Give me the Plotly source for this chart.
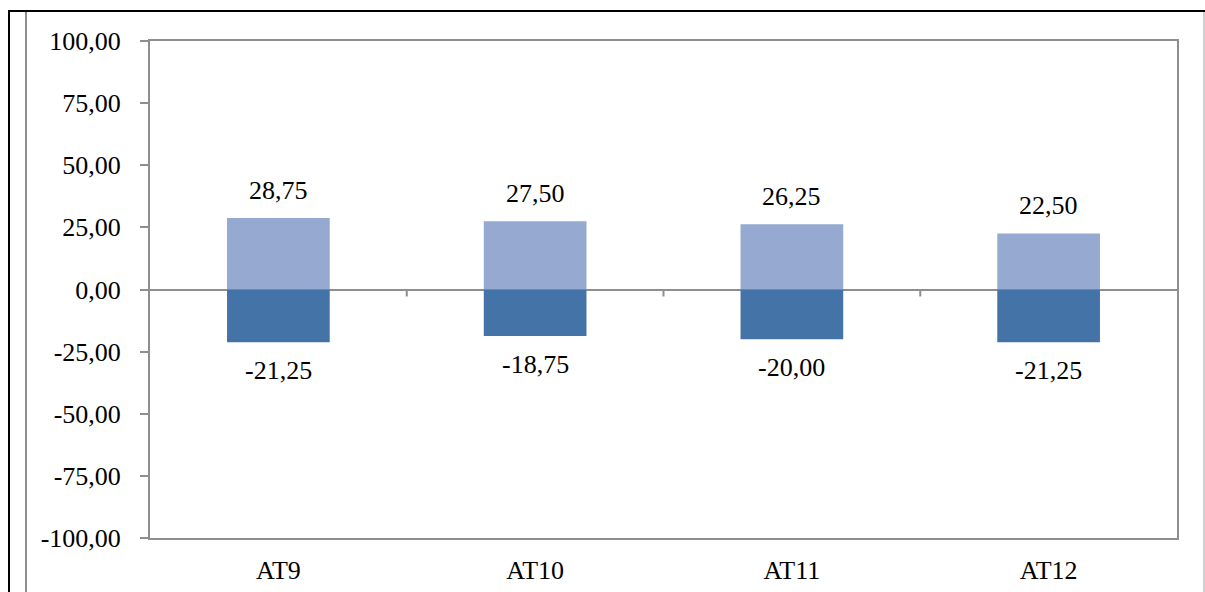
import plotly.graph_objects as go

# Data
categories = ["AT9", "AT10", "AT11", "AT12"]
positive_vals = [28.75, 27.50, 26.25, 22.50]
negative_vals = [-21.25, -18.75, -20.00, -21.25]
tick_vals = [100, 75, 50, 25, 0, -25, -50, -75, -100]
tick_text = ["100,00", "75,00", "50,00", "25,00", "0,00", "-25,00", "-50,00", "-75,00", "-100,00"]

FONT = "Liberation Serif"
FSIZE = 26
AXIS_GREY = "#8e8e8e"


def fmt(v):
    return f"{v:.2f}".replace(".", ",")


fig = go.Figure()
fig.add_trace(go.Bar(x=categories, y=positive_vals, marker=dict(color="#95a9d1", line=dict(width=0)),
                     width=0.4, showlegend=False))
fig.add_trace(go.Bar(x=categories, y=negative_vals, marker=dict(color="#4473a8", line=dict(width=0)),
                     width=0.4, showlegend=False))

annotations = []
for c, v in zip(categories, positive_vals):
    annotations.append(dict(x=c, y=v, xref="x", yref="y", text=fmt(v), showarrow=False,
                            yanchor="middle", yshift=28, font=dict(family=FONT, size=FSIZE, color="black")))
for c, v in zip(categories, negative_vals):
    annotations.append(dict(x=c, y=v, xref="x", yref="y", text=fmt(v), showarrow=False,
                            yanchor="middle", yshift=-28, font=dict(family=FONT, size=FSIZE, color="black")))

# Category boundary ticks hanging below the zero line
shapes = []
for b in [0.5, 1.5, 2.5]:
    shapes.append(dict(type="line", xref="x", yref="y", x0=b, x1=b, ysizemode="pixel", yanchor=0,
                       y0=0, y1=-7, line=dict(color=AXIS_GREY, width=2)))

# Outer frame of the chart area
W, L = 1027.0, 150.0
H, T = 497.0, 41.0


def px_x(p):
    return (p - L) / W


def px_y(p):
    return 1 - (p - T) / H


shapes += [
    dict(type="line", xref="paper", yref="paper", x0=px_x(9), x1=px_x(9), y0=px_y(10), y1=px_y(610),
         line=dict(color="black", width=2)),
    dict(type="line", xref="paper", yref="paper", x0=px_x(8), x1=px_x(1210), y0=px_y(11), y1=px_y(11),
         line=dict(color="black", width=2)),
    dict(type="line", xref="paper", yref="paper", x0=px_x(26), x1=px_x(26), y0=px_y(12), y1=px_y(610),
         line=dict(color="#8e8e8e", width=2)),
    dict(type="line", xref="paper", yref="paper", x0=px_x(1204), x1=px_x(1204), y0=px_y(12), y1=px_y(610),
         line=dict(color="#d0d0d0", width=2)),
]

fig.update_layout(
    barmode="relative",
    width=1205, height=592,
    margin=dict(l=150, r=28, t=41, b=54),
    paper_bgcolor="white", plot_bgcolor="white",
    annotations=annotations,
    shapes=shapes,
    font=dict(family=FONT, size=FSIZE, color="black"),
    xaxis=dict(showgrid=False, showline=True, mirror=True, linecolor=AXIS_GREY, linewidth=2,
               ticks="", ticklabelstandoff=8, automargin=False,
               tickfont=dict(family=FONT, size=FSIZE, color="black")),
    yaxis=dict(range=[-100, 100], tickvals=tick_vals, ticktext=tick_text, showgrid=False,
               showline=True, mirror=True, linecolor=AXIS_GREY, linewidth=2,
               ticks="outside", ticklen=8, tickwidth=2, tickcolor=AXIS_GREY, ticklabelstandoff=14,
               automargin=False,
               zeroline=True, zerolinecolor=AXIS_GREY, zerolinewidth=2,
               tickfont=dict(family=FONT, size=FSIZE, color="black")),
)

fig.write_html("out.html")
